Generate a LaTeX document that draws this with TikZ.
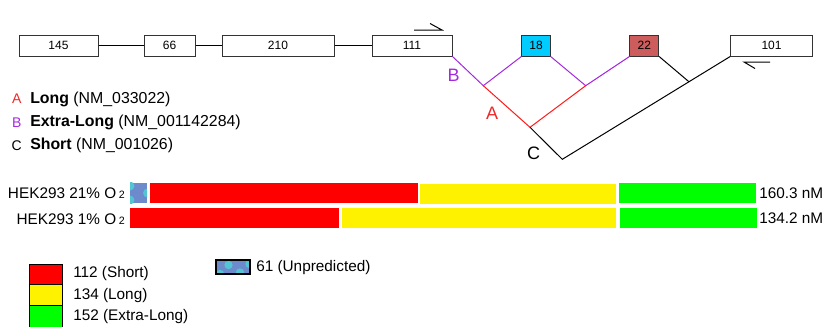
\documentclass[tikz,border=0pt]{standalone}
\usepackage{fontspec}
\setmainfont{Liberation Sans}
\begin{document}
\begin{tikzpicture}[x=0.75pt,y=-0.75pt,
  exon/.style={draw=black!80,line width=0.75pt,fill=white,inner sep=0pt,minimum height=15.75pt,font=\fontsize{9}{10}\selectfont},
  ln/.style={line width=0.75pt},
  purp/.style={ln,draw={rgb,255:red,165;green,40;blue,225}},
  redl/.style={ln,draw={rgb,255:red,255;green,25;blue,25}},
  blk/.style={ln,draw=black},
  big/.style={font=\fontsize{13.5}{16}\selectfont,inner sep=0pt},
  txt/.style={font=\fontsize{11.5}{14}\selectfont,inner sep=0pt},
  txtb/.style={font=\fontsize{11.9}{14}\selectfont,inner sep=0pt},
  sml/.style={font=\fontsize{10.5}{12}\selectfont,inner sep=0pt}]
\definecolor{patbase}{RGB}{108,138,204}
\definecolor{patdot}{RGB}{82,196,210}
\definecolor{purpc}{RGB}{165,40,225}
\useasboundingbox (0,0) rectangle (827,326);
% exons
\node[exon,minimum width=59.25pt] (e145) at (58.5,45.5) {145};
\node[exon,minimum width=38.25pt] (e66) at (169.5,45.5) {66};
\node[exon,minimum width=84pt] (e210) at (278,45.5) {210};
\node[exon,minimum width=60pt] (e111) at (412,45.5) {111};
\node[exon,minimum width=21.2pt,fill={rgb,255:red,0;green,204;blue,255}] (e18) at (536,45.5) {18};
\node[exon,minimum width=21.5pt,fill={rgb,255:red,205;green,92;blue,92}] (e22) at (644.3,45.5) {22};
\node[exon,minimum width=61.2pt] (e101) at (771.5,45.5) {101};
\draw[blk] (e145) -- (e66);
\draw[blk] (e66) -- (e210);
\draw[blk] (e210) -- (e111);
% primers
\coordinate (p1a) at (414,30); \coordinate (p1b) at (442,30); \coordinate (p1c) at (430,23.5);
\draw[blk] (p1a) -- (p1b) -- (p1c);
\coordinate (p2a) at (770,62); \coordinate (p2b) at (744,62); \coordinate (p2c) at (755,68.5);
\draw[blk] (p2a) -- (p2b) -- (p2c);
% junctions
\coordinate (jB) at (483.3,85.7);
\coordinate (jM) at (585.7,85.7);
\coordinate (jA) at (530,127.3);
\coordinate (jC) at (562.3,159.3);
\coordinate (j22) at (689,81.8);
\draw[purp] (e111.south east) -- (jB) -- (e18.south west);
\draw[purp] (e18.south east) -- (jM) -- (e22.south west);
\draw[redl] (jB) -- (jA) -- (jM);
\draw[blk] (jA) -- (jC) -- (e101.south west);
\draw[blk] (e22.south east) -- (j22);
\node[big,text=purpc] (lB) at (453.5,75.5) {B};
\node[big,text={rgb,255:red,240;green,40;blue,40}] (lA) at (492,113) {A};
\node[big] (lC) at (533.5,153) {C};
% legend of isoforms
\node[sml,text={rgb,255:red,240;green,40;blue,40}] (kA) at (16.7,99) {A};
\node[txtb,anchor=west] (tA) at (30,99.5) {\textbf{Long} (NM\_033022)};
\node[sml,text=purpc] (kB) at (16.7,122.5) {B};
\node[txtb,anchor=west] (tB) at (30,122.5) {\textbf{Extra-Long} (NM\_001142284)};
\node[sml] (kC) at (16.7,145.5) {C};
\node[txtb,anchor=west] (tC) at (30,145.5) {\textbf{Short} (NM\_001026)};
% bars row 1
\begin{scope}
\clip (130,182.5) rectangle (147,203);
\fill[patbase] (130,182.5) rectangle (147,203);
\fill[patdot] (130,186) circle (4.5);
\fill[patdot] (130,200) circle (4.5);
\fill[patdot] (147.5,193) circle (4.5);
\end{scope}
\fill[red] (150,182.5) rectangle (418,203);
\fill[yellow] (420,183.5) rectangle (616,204);
\fill[green] (619,182.5) rectangle (756,203);
\node[txt,anchor=east] (r1) at (125,193.5) {HEK293 21\% O\,{\fontsize{8}{10}\selectfont 2}};
\node[txt,anchor=west] (v1) at (759,193) {160.3 nM};
% bars row 2
\fill[red] (130,207.7) rectangle (339,227.7);
\fill[yellow] (342,207.7) rectangle (616,227.7);
\fill[green] (620,207.7) rectangle (756.7,227.7);
\node[txt,anchor=east] (r2) at (125,219) {HEK293 1\% O\,{\fontsize{8}{10}\selectfont 2}};
\node[txt,anchor=west] (v2) at (759,218.5) {134.2 nM};
% size legend
\draw[black,line width=0.75pt,fill=red] (29,264) rectangle (62,284.3);
\draw[black,line width=0.75pt,fill=yellow] (29,284.3) rectangle (62,305);
\draw[black,line width=0.75pt,fill=green] (29,305) rectangle (62,330);
\node[txt,anchor=west] (s1) at (73,274) {112 (Short)};
\node[txt,anchor=west] (s2) at (73,295.5) {134 (Long)};
\node[txt,anchor=west] (s3) at (73,317) {152 (Extra-Long)};
\begin{scope}
\clip (216,260) rectangle (250,274.3);
\fill[patbase] (216,260) rectangle (250,274.3);
\fill[patdot] (228.5,265) circle (4.2);
\fill[patdot] (240,272.5) circle (4.2);
\fill[patdot] (220,274) circle (4.2);
\fill[patdot] (249.5,264) circle (4.2);
\end{scope}
\draw[black,line width=1.5pt] (216,260) rectangle (250,274.3);
\node[txt,anchor=west] (s4) at (256,267.3) {61 (Unpredicted)};
\end{tikzpicture}
\end{document}
